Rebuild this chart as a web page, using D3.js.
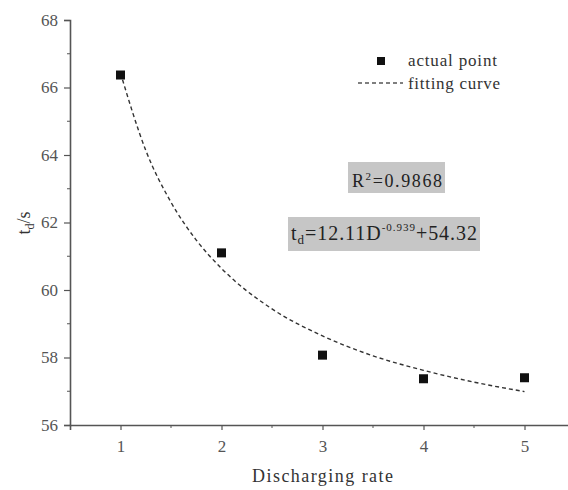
<!DOCTYPE html>
<html>
<head>
<meta charset="utf-8">
<script src="https://d3js.org/d3.v7.min.js"></script>
<style>
  body { margin: 0; background: #fff; }
  text { font-family: "Liberation Serif", "Times New Roman", "DejaVu Serif", serif; }
</style>
</head>
<body>
<div class="chart"></div>
<script>
// measured points
const rates = [1, 2, 3, 4, 5];
const times = [66.37, 61.1, 58.07, 57.37, 57.4];

// fitted curve, samples
const curveX = [1, 1.25, 1.5, 1.75, 2, 2.5, 3, 3.5, 4, 4.5, 5];
const curveY = [66.43, 64.14, 62.6, 61.48, 60.64, 59.44, 58.64, 58.05, 57.62, 57.27, 56.99];

const xTicks = [1, 2, 3, 4, 5];
const yTicks = [56, 58, 60, 62, 64, 66, 68];

const width = 568, height = 490;
const margin = { top: 20, right: -7, bottom: 65, left: 70 };

const svg = d3.select(".chart").append("svg")
    .attr("width", width)
    .attr("height", height);

const x = d3.scaleLinear().domain([0.5, 5.5]).range([margin.left, width - margin.right]);
const y = d3.scaleLinear().domain([56, 68]).range([height - margin.bottom, margin.top]);

const axisColor = "#555";
const serif = "'Liberation Serif', 'Times New Roman', 'DejaVu Serif', serif";

// x axis
const gx = svg.append("g")
    .attr("transform", `translate(0,${y(56)})`)
    .call(d3.axisBottom(x).tickValues(xTicks).tickSize(5).tickPadding(10).tickFormat(d3.format("d")));
// minor x ticks
gx.selectAll(".minor")
    .data([1.5, 2.5, 3.5, 4.5])
    .enter().append("line")
    .attr("x1", d => x(d)).attr("x2", d => x(d))
    .attr("y1", 0).attr("y2", 3)
    .attr("stroke", axisColor);

// y axis
const gy = svg.append("g")
    .attr("transform", `translate(${x(0.5)},0)`)
    .call(d3.axisLeft(y).tickValues(yTicks).tickSize(6).tickPadding(6).tickFormat(d3.format("d")));
gy.selectAll(".minor")
    .data([57, 59, 61, 63, 65, 67])
    .enter().append("line")
    .attr("x1", -3).attr("x2", 0)
    .attr("y1", d => y(d)).attr("y2", d => y(d))
    .attr("stroke", axisColor);

[gx, gy].forEach(g => {
    g.attr("font-family", serif);
    g.select(".domain").attr("stroke", axisColor).attr("stroke-width", 1.6);
    g.selectAll(".tick line").attr("stroke", axisColor).attr("stroke-width", 1.2);
    g.selectAll(".tick text")
        .attr("fill", "#555")
        .style("font-family", serif)
        .style("font-size", "17px");
});

// fitting curve
const line = d3.line()
    .x((d, i) => x(curveX[i]))
    .y(d => y(d))
    .curve(d3.curveMonotoneX);

svg.append("path")
    .datum(curveY)
    .attr("fill", "none")
    .attr("stroke", "#333")
    .attr("stroke-width", 1.4)
    .attr("stroke-dasharray", "4,3")
    .attr("d", line);

// points
const size = 9;
svg.append("g")
    .selectAll("rect")
    .data(rates)
    .enter().append("rect")
    .attr("x", d => x(d) - size / 2)
    .attr("y", (d, i) => y(times[i]) - size / 2)
    .attr("width", size)
    .attr("height", size)
    .attr("fill", "#111");

// legend
const legend = svg.append("g");
legend.append("rect")
    .attr("x", 377).attr("y", 57).attr("width", 8).attr("height", 8).attr("fill", "#111");
legend.append("text")
    .attr("x", 408).attr("y", 66)
    .attr("fill", "#333")
    .attr("textLength", 89)
    .style("font-size", "17px")
    .text("actual point");
legend.append("line")
    .attr("x1", 358).attr("x2", 403).attr("y1", 83).attr("y2", 83)
    .attr("stroke", "#555").attr("stroke-width", 1.4).attr("stroke-dasharray", "4,3");
legend.append("text")
    .attr("x", 408).attr("y", 89)
    .attr("fill", "#333")
    .attr("textLength", 92)
    .style("font-size", "17px")
    .text("fitting curve");

// annotation boxes
svg.append("rect")
    .attr("x", 348).attr("y", 162).attr("width", 97).attr("height", 31)
    .attr("fill", "#c6c6c6");
const r2 = svg.append("text")
    .attr("x", 352).attr("y", 187)
    .attr("fill", "#222")
    .attr("textLength", 90)
    .style("font-size", "18px");
r2.append("tspan").text("R");
r2.append("tspan").attr("dy", -7).style("font-size", "11px").text("2");
r2.append("tspan").attr("dy", 7).text("=0.9868");

svg.append("rect")
    .attr("x", 288).attr("y", 217).attr("width", 192).attr("height", 34)
    .attr("fill", "#c6c6c6");
const eq = svg.append("text")
    .attr("x", 291).attr("y", 240)
    .attr("fill", "#222")
    .attr("textLength", 186)
    .style("font-size", "20px");
eq.append("tspan").text("t");
eq.append("tspan").attr("dy", 4).style("font-size", "13px").text("d");
eq.append("tspan").attr("dy", -4).text("=12.11D");
eq.append("tspan").attr("dy", -9).style("font-size", "11px").text("-0.939");
eq.append("tspan").attr("dy", 9).text("+54.32");

// axis titles
svg.append("text")
    .attr("x", 252).attr("y", 482)
    .attr("fill", "#333")
    .attr("textLength", 141)
    .style("font-size", "18px")
    .text("Discharging rate");

const yl = svg.append("text")
    .attr("transform", "translate(30,223) rotate(-90)")
    .attr("text-anchor", "middle")
    .attr("fill", "#333")
    .style("font-size", "18px");
yl.append("tspan").text("t");
yl.append("tspan").attr("dy", 4).style("font-size", "12px").text("d");
yl.append("tspan").attr("dy", -4).text("/s");
</script>
</body>
</html>
